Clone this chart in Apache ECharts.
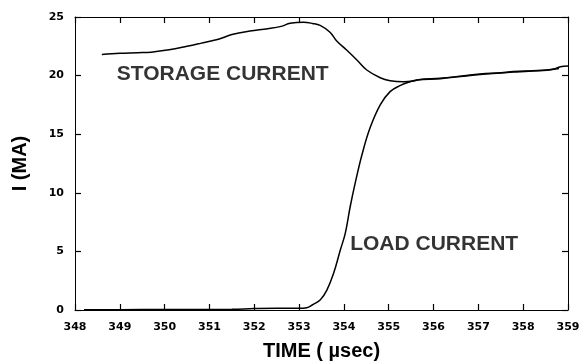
<!DOCTYPE html>
<html>
<head>
<meta charset="utf-8">
<script src="https://cdn.jsdelivr.net/npm/echarts@6/dist/echarts.min.js"></script>
<style>
  html, body { margin: 0; padding: 0; background: #fff; }
  #chart { width: 584px; height: 362px; }
</style>
</head>
<body>
<div id="chart"></div>
<script>
// Storage current trace: time (µs) and current (MA)
const storageTime = [348.6, 349.0, 349.4, 349.7, 350.1, 350.5, 350.8, 351.2, 351.5, 351.9, 352.3, 352.6, 352.8, 353.1,
  353.3, 353.47, 353.69, 353.84, 354.06, 354.29, 354.51, 354.81, 355.03, 355.33, 355.55, 355.7, 356.15, 356.6,
  357.04, 357.5, 357.78, 358.2, 358.53, 358.68, 358.83, 359.0];
const storageCurrent = [21.8, 21.9, 21.95, 22.0, 22.2, 22.5, 22.75, 23.1, 23.5, 23.8, 24.0, 24.2, 24.46, 24.55,
  24.45, 24.28, 23.7, 22.95, 22.18, 21.33, 20.48, 19.82, 19.57, 19.48, 19.54, 19.66, 19.77, 19.95,
  20.14, 20.25, 20.34, 20.42, 20.48, 20.56, 20.76, 20.82];

// Load current trace: time (µs) and current (MA)
const loadTime = [348.2, 349.0, 350.0, 351.0, 351.5, 352.0, 352.5, 353.0, 353.17, 353.3, 353.47, 353.62, 353.77,
  353.92, 354.03, 354.14, 354.25, 354.4, 354.58, 354.81, 355.03, 355.25, 355.48, 355.63, 356.15, 356.6,
  357.04, 357.5, 357.78, 358.2, 358.53, 358.8];
const loadCurrent = [0.02, 0.03, 0.05, 0.05, 0.06, 0.12, 0.15, 0.15, 0.2, 0.45, 0.85, 1.7, 3.13,
  5.12, 6.54, 8.81, 10.8, 13.2, 15.5, 17.5, 18.63, 19.14, 19.48, 19.62, 19.74, 19.92,
  20.1, 20.22, 20.3, 20.4, 20.45, 20.6];

// Axis ranges and tick spacing
const timeRange = [348, 359];
const timeStep = 1;
const currentRange = [0, 25];
const currentStep = 5;

// Curve annotations: text and the (time, current) point where each starts
const annotationText = ['STORAGE CURRENT', 'LOAD CURRENT'];
const annotationAt = [[348.93, 20.1], [354.14, 5.6]];

const ink = '#000';
const pair = (xs, ys) => xs.map((x, i) => [x, ys[i]]);

const tickFont = { fontFamily: 'DejaVu Sans', fontWeight: 'bold', fontSize: 11, color: ink };
const nameFont = { fontFamily: 'Liberation Sans', fontWeight: 'bold', fontSize: 20, color: ink };

// Boxed frame: every side draws its line with short inward ticks
function frameAxis() {
  return {
    axisLine: { show: true, onZero: false, lineStyle: { color: ink, width: 1 } },
    axisTick: { show: true, inside: true, length: 6, lineStyle: { color: ink, width: 1.2 } },
    splitLine: { show: false }
  };
}

const chart = echarts.init(document.getElementById('chart'), null, { renderer: 'canvas' });
chart.setOption({
  animation: false,
  backgroundColor: '#fff',
  grid: { left: 75, right: 16, top: 17, bottom: 52, containLabel: false, outerBoundsMode: 'none' },
  xAxis: [
    Object.assign({
      type: 'value', position: 'bottom', min: timeRange[0], max: timeRange[1], interval: timeStep,
      name: 'TIME ( µsec)', nameLocation: 'middle', nameGap: 31, nameTextStyle: nameFont,
      axisLabel: Object.assign({ margin: 12 }, tickFont)
    }, frameAxis()),
    Object.assign({
      type: 'value', position: 'top', min: timeRange[0], max: timeRange[1], interval: timeStep,
      axisLabel: { show: false }
    }, frameAxis())
  ],
  yAxis: [
    Object.assign({
      type: 'value', position: 'left', min: currentRange[0], max: currentRange[1], interval: currentStep,
      name: 'I (MA)', nameLocation: 'middle', nameGap: 45, nameTextStyle: nameFont,
      axisLabel: Object.assign({ margin: 11 }, tickFont)
    }, frameAxis()),
    Object.assign({
      type: 'value', position: 'right', min: currentRange[0], max: currentRange[1], interval: currentStep,
      axisLabel: { show: false }
    }, frameAxis())
  ],
  series: [
    {
      type: 'line', name: 'storage', data: pair(storageTime, storageCurrent),
      showSymbol: false, smooth: 0.4, lineStyle: { color: ink, width: 1.5 }
    },
    {
      type: 'line', name: 'load', data: pair(loadTime, loadCurrent),
      showSymbol: false, smooth: 0.4, lineStyle: { color: ink, width: 1.5 }
    },
    {
      type: 'scatter', name: 'annotations', symbolSize: 1, itemStyle: { color: 'rgba(0,0,0,0)' },
      data: annotationAt.map((p, i) => ({ value: p, name: annotationText[i] })),
      label: {
        show: true, position: 'inside', align: 'left', verticalAlign: 'middle',
        formatter: p => p.name, fontFamily: 'Liberation Sans', fontWeight: 'bold', fontSize: 21, color: ink
      },
      silent: true
    }
  ]
});
</script>
</body>
</html>
